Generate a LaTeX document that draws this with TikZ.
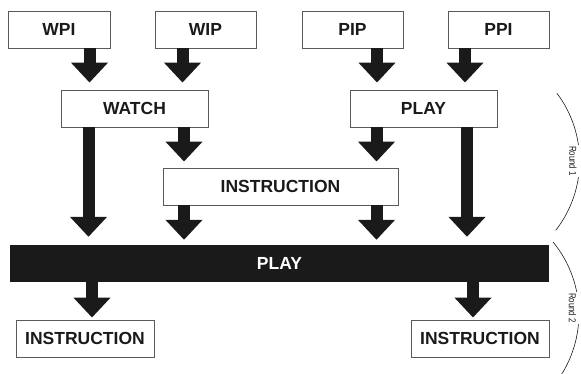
\documentclass[tikz,border=0pt]{standalone}
\usepackage{fontspec}
\setmainfont{Liberation Sans}
\usetikzlibrary{arrows.meta}
\definecolor{ink}{HTML}{1A1A1A}
\definecolor{edge}{HTML}{5A5A5A}
\begin{document}
\begin{tikzpicture}[x=1pt,y=-1pt,
  box/.style={draw=edge,line width=0.9pt,fill=white,minimum height=37pt,inner sep=0pt,
    text=ink,font=\bfseries\fontsize{17.5}{18}\selectfont},
  bar/.style={fill=ink,draw=none,minimum height=37pt,inner sep=0pt,
    text=white,font=\bfseries\fontsize{17.5}{18}\selectfont},
  flow/.style={draw=ink,line width=12pt,-{Triangle[width=36pt,length=20pt]},color=ink},
  roundlbl/.style={fill=white,inner xsep=1pt,inner ysep=4pt,rotate=-90,text=ink,
    font=\fontsize{10}{11}\selectfont},
  bracket/.style={draw=ink,line width=0.6pt}]
\useasboundingbox (0,0) rectangle (581,374);

% first row: the four conditions
\node[box,minimum width=102pt] (wpi) at (59,29.5) {WPI};
\node[box,minimum width=101pt] (wip) at (205.5,29.5) {WIP};
\node[box,minimum width=101pt] (pip) at (352.5,29.5) {PIP};
\node[box,minimum width=101pt] (ppi) at (498.5,29.5) {PPI};

% second row
\node[box,minimum width=147pt] (watch) at (134.5,108.5) {WATCH};
\node[box,minimum width=147pt] (play1) at (423.5,108.5) {PLAY};

% shared instruction
\node[box,minimum width=235pt] (instr) at (280.5,186.5) {INSTRUCTION};

% second round
\node[bar,minimum width=539pt] (play2) at (279.5,263.5) {PLAY};
\node[box,minimum width=138pt] (instrL) at (85,338.5) {INSTRUCTION};
\node[box,minimum width=138pt] (instrR) at (480,338.5) {INSTRUCTION};

% arrows into WATCH and PLAY
\draw[flow,shorten >=7pt] (89.5,0 |- wpi.south) -- (89.5,0 |- watch.north);
\draw[flow,shorten >=7pt] (182.5,0 |- wip.south) -- (182.5,0 |- watch.north);
\draw[flow,shorten >=7pt] (377,0 |- pip.south) -- (377,0 |- play1.north);
\draw[flow,shorten >=7pt] (465,0 |- ppi.south) -- (465,0 |- play1.north);

% arrows into the instruction
\draw[flow,shorten >=6pt] (184,0 |- watch.south) -- (184,0 |- instr.north);
\draw[flow,shorten >=6pt] (376.5,0 |- play1.south) -- (376.5,0 |- instr.north);

% arrows into the bar
\draw[flow,shorten >=8pt] (88.5,0 |- watch.south) -- (88.5,0 |- play2.north);
\draw[flow,shorten >=5pt] (184,0 |- instr.south) -- (184,0 |- play2.north);
\draw[flow,shorten >=5pt] (376.5,0 |- instr.south) -- (376.5,0 |- play2.north);
\draw[flow,shorten >=8pt] (467,0 |- play1.south) -- (467,0 |- play2.north);

% arrows out of the bar
\draw[flow,shorten >=2pt] (92,0 |- play2.south) -- (92,0 |- instrL.north);
\draw[flow,shorten >=2pt] (473,0 |- play2.south) -- (473,0 |- instrR.north);

% round brackets
\coordinate (c1) at (467,161);
\draw[bracket] (c1) ++(38:112.6) arc[start angle=38,end angle=-37,radius=112.6];
\node[roundlbl] (r1) at (573,161) {\scalebox{0.78}[1]{Round 1}};
\coordinate (c2) at (465.5,314.1);
\draw[bracket] (c2) ++(33:113.4) arc[start angle=33,end angle=-39.5,radius=113.4];
\node[roundlbl] (r2) at (572.5,308) {\scalebox{0.78}[1]{Round 2}};
\end{tikzpicture}
\end{document}
